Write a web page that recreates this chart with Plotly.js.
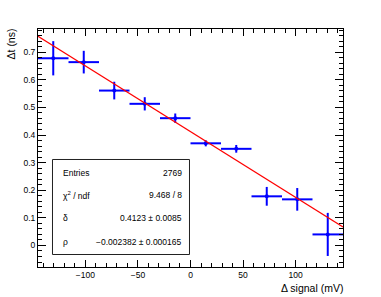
<!DOCTYPE html>
<html>
<head>
<meta charset="utf-8">
<script src="https://cdn.plot.ly/plotly-3.0.1.min.js"></script>
<style>html,body{margin:0;padding:0;background:#fff;}#plot{width:381px;height:297px;}</style>
</head>
<body>
<div id="plot"></div>
<script>
// Data
const binCenters = [-130.5, -101.5, -72.5, -43.5, -14.5, 14.5, 43.5, 72.5, 101.5, 130.5];
const binHalfWidth = [14.5, 14.5, 14.5, 14.5, 14.5, 14.5, 14.5, 14.5, 14.5, 14.5];
const deltaT = [0.678, 0.664, 0.561, 0.513, 0.461, 0.370, 0.350, 0.178, 0.167, 0.040];
const deltaTErr = [0.062, 0.041, 0.032, 0.024, 0.017, 0.011, 0.014, 0.034, 0.041, 0.078];

// Fit parameters (from the stats box)
const fitDelta = 0.4123;
const fitRho = -0.002382;
const fitRangeX = [-145, 145];

// Stats box
const statLabels = ["Entries", "\u03c7<sup>2</sup> / ndf", "\u03b4", "\u03c1"];
const statValues = ["2769", "9.468 / 8", "0.4123 \u00b1 0.0085", "\u22120.002382 \u00b1 0.000165"];

const FONT = "Liberation Sans, Arial, Helvetica, sans-serif";

const points = {
  x: binCenters, y: deltaT, type: "scatter", mode: "markers",
  marker: {color: "#0000ff", size: 4},
  error_x: {type: "data", array: binHalfWidth, color: "#0000ff", thickness: 2, width: 0},
  error_y: {type: "data", array: deltaTErr, color: "#0000ff", thickness: 2, width: 0},
  hoverinfo: "skip", showlegend: false
};

const fit = {
  x: fitRangeX, y: fitRangeX.map(v => fitDelta + fitRho * v),
  type: "scatter", mode: "lines", line: {color: "#ff0000", width: 1.2},
  hoverinfo: "skip", showlegend: false
};

const rowY = [0.397, 0.3025, 0.2038, 0.107];
const annotations = [];
statLabels.forEach((t, i) => {
  annotations.push({xref: "paper", yref: "paper", x: 0.0744, y: rowY[i], text: t, showarrow: false,
    xanchor: "left", yanchor: "middle", font: {family: FONT, size: 8.5, color: "#000"}});
  annotations.push({xref: "paper", yref: "paper", x: 0.4787, y: rowY[i], text: statValues[i], showarrow: false,
    xanchor: "right", yanchor: "middle", font: {family: FONT, size: 8.5, color: "#000"}});
});
annotations.push({xref: "paper", yref: "paper", x: 1.003, y: -0.088, text: "\u0394 signal (mV)", showarrow: false,
  xanchor: "right", yanchor: "middle", borderpad: 0, font: {family: FONT, size: 10.5, color: "#000"}});
annotations.push({xref: "paper", yref: "paper", x: -0.088, y: 1.005, text: "\u0394t (ns)", showarrow: false,
  textangle: -90, xanchor: "center", yanchor: "top", borderpad: 0, font: {family: FONT, size: 10.5, color: "#000"}});

const axisCommon = {
  showgrid: false, zeroline: false, showline: true, linecolor: "#000", linewidth: 1,
  mirror: "allticks", ticks: "inside", tickcolor: "#000", tickwidth: 1,
  tickfont: {family: FONT, size: 8.5, color: "#000"}
};

const layout = {
  width: 381, height: 297,
  margin: {l: 38, r: 38, t: 29, b: 30},
  paper_bgcolor: "#fff", plot_bgcolor: "#fff",
  font: {family: FONT},
  xaxis: Object.assign({}, axisCommon, {
    range: [-145, 145], dtick: 50, tick0: 0, ticklen: 7,
    minor: {dtick: 10, ticks: "inside", ticklen: 4, tickcolor: "#000", showgrid: false}
  }),
  yaxis: Object.assign({}, axisCommon, {
    range: [-0.078, 0.784], dtick: 0.1, tick0: 0, ticklen: 8,
    minor: {dtick: 0.02, ticks: "inside", ticklen: 4, tickcolor: "#000", showgrid: false}
  }),
  shapes: [{type: "rect", xref: "paper", yref: "paper", x0: 0.0475, x1: 0.4967, y0: 0.0525, y1: 0.4517,
    line: {color: "#222", width: 1}, fillcolor: "#fff", layer: "above"}],
  annotations: annotations
};

Plotly.newPlot("plot", [points, fit], layout, {staticPlot: true, displayModeBar: false});
</script>
</body>
</html>
